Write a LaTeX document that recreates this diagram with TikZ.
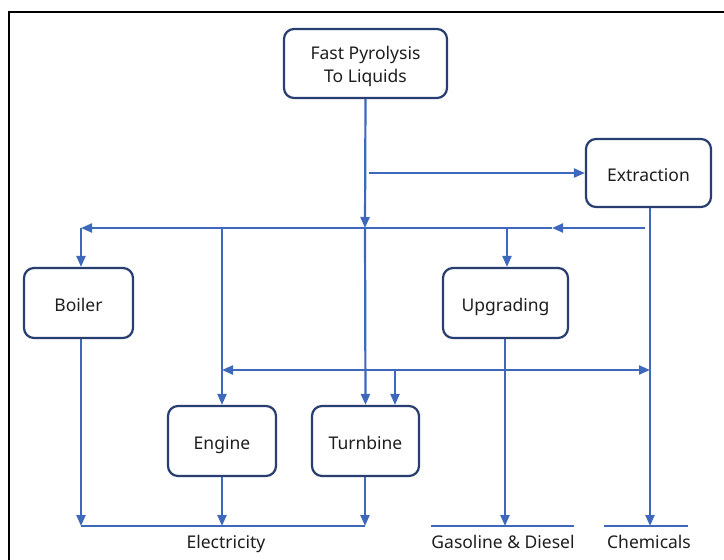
\documentclass[tikz,border=0pt]{standalone}
\usepackage{fontspec}
\setmainfont{Noto Sans}
\usetikzlibrary{arrows.meta}
\definecolor{lineblue}{RGB}{62,104,188}
\definecolor{boxnavy}{RGB}{40,62,112}
\definecolor{txt}{RGB}{30,30,30}
\tikzset{
  procbox/.style={draw=boxnavy, line width=2.2pt, rounded corners=10pt, fill=white, text=txt, align=center, font=\fontsize{17.5}{23}\selectfont, inner sep=0pt},
  onebox/.style={procbox, text height=17pt, text depth=1pt},
  flow/.style={draw=lineblue, line width=2.2pt, -{Triangle[length=11pt,width=9pt]}},
  both/.style={draw=lineblue, line width=2.2pt, {Triangle[length=11pt,width=9pt]}-{Triangle[length=11pt,width=9pt]}},
  outlabel/.style={text=txt, font=\fontsize{17.5}{20}\selectfont, inner sep=0pt, anchor=base},
  baseline/.style={draw=lineblue, line width=2pt}
}
\begin{document}
\begin{tikzpicture}[x=1pt,y=-1pt]
\useasboundingbox (0,0) rectangle (724,560);
\fill[white] (0,0) rectangle (724,560);
\draw[black, line width=2.2pt] (9,560) -- (9,12) -- (724,12);

% boxes
\node[procbox, minimum width=163pt, minimum height=69pt] (pyro) at (365.5,63.5) {\rule{0pt}{19pt}Fast Pyrolysis\\To Liquids};
\node[onebox, minimum width=125pt, minimum height=68pt] (extr) at (648.5,173) {Extraction};
\node[onebox, minimum width=109pt, minimum height=70pt] (boiler) at (78.5,303) {Boiler};
\node[onebox, minimum width=125pt, minimum height=70pt] (upg) at (505.5,303) {Upgrading};
\node[onebox, minimum width=108pt, minimum height=70pt] (engine) at (222,441) {Engine};
\node[onebox, minimum width=107pt, minimum height=70pt] (turb) at (365.5,441) {Turnbine};

% output labels
\node[outlabel] (elec) at (226,548) {Electricity};
\node[outlabel] (gas) at (503,548) {Gasoline \& Diesel};
\node[outlabel] (chem) at (649,548) {Chemicals};

% junction coordinates
\coordinate (busTop) at (365,228);
\coordinate (extrStart) at (369,173);
\coordinate (busRight) at (645,228);
\coordinate (busMid) at (552,228);
\coordinate (busLeft) at (81,228);
\coordinate (engTap) at (222,228);
\coordinate (upgTap) at (507,228);
\coordinate (dblL) at (222,370);
\coordinate (dblR) at (650,370);
\coordinate (turbTap) at (395,370);
\coordinate (elecL) at (81,526);
\coordinate (elecR) at (365,526);
\coordinate (engOut) at (222,526);
\coordinate (gasL) at (431,526);
\coordinate (gasR) at (574,526);
\coordinate (gasIn) at (505,526);
\coordinate (chemL) at (604,526);
\coordinate (chemR) at (688,526);
\coordinate (chemIn) at (650,526);

% bases
\draw[baseline] (elecL) -- (elecR);
\draw[baseline] (gasL) -- (gasR);
\draw[baseline] (chemL) -- (chemR);

% connectors
\draw[flow] (pyro.south) -- (busTop);
\draw[flow] (busTop) -- (turb.north);
\draw[flow] (extrStart) -- (extr.west);
\draw[flow] (extr.south -| chemIn) -- (chemIn);
\draw[flow] (busRight) -- (busMid);
\draw[flow] (busMid) -- (busLeft);
\draw[flow] (busLeft) -- (boiler.north -| busLeft);
\draw[flow] (engTap) -- (engine.north);
\draw[flow] (upgTap) -- (upg.north -| upgTap);
\draw[both] (dblL) -- (dblR);
\draw[flow] (turbTap) -- (turb.north -| turbTap);
\draw[flow] (boiler.south -| elecL) -- (elecL);
\draw[flow] (engine.south) -- (engOut);
\draw[flow] (turb.south -| elecR) -- (elecR);
\draw[flow] (upg.south -| gasIn) -- (gasIn);
\end{tikzpicture}
\end{document}
